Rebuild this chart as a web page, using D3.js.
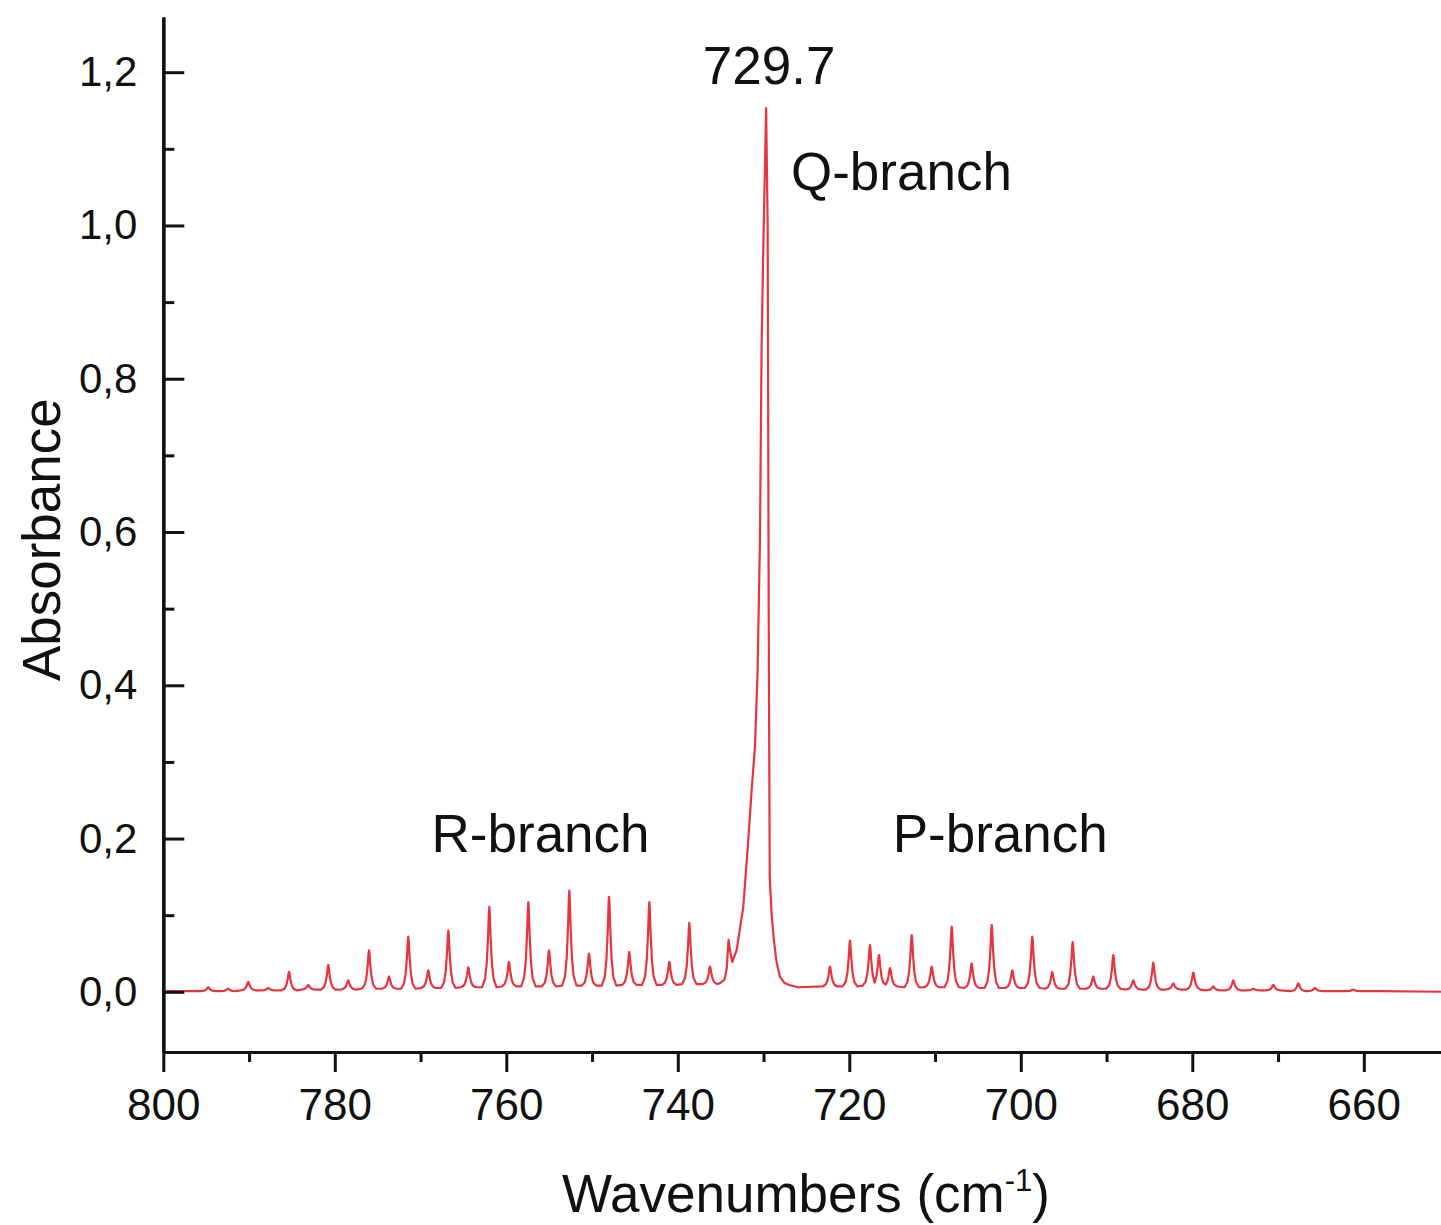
<!DOCTYPE html>
<html>
<head>
<meta charset="utf-8">
<script src="https://cdn.jsdelivr.net/npm/d3@7"></script>
<style>
  html, body { margin: 0; padding: 0; background: #ffffff; }
  svg { display: block; }
  text { font-family: "Liberation Sans", Arial, Helvetica, sans-serif; fill: #111; }
</style>
</head>
<body>
<svg id="chart" width="1441" height="1225"></svg>
<script>
// Rotational lines of the R- and P-branch: centre (cm-1), peak absorbance, local baseline
const lineWavenumber = [
  794.75, 792.45, 790.09, 787.76, 785.34, 783.09, 780.76, 778.43, 776.01, 773.68,
  771.43, 769.10, 766.76, 764.43, 761.98, 759.69, 757.43, 755.02, 752.65, 750.36,
  748.02, 745.66, 743.32, 740.99, 738.66, 736.24,
  722.25, 719.92, 717.59, 716.54, 715.25, 712.72, 710.39, 708.06, 705.73, 703.39,
  700.99, 698.66, 696.33, 693.95, 691.55, 689.21, 686.88, 684.55, 682.22, 679.88,
  677.55, 675.22, 672.89, 670.55, 667.64, 665.69, 661.22
];
const lineAbsorbance = [
  0.006, 0.004, 0.013, 0.005, 0.026, 0.009, 0.035, 0.015, 0.054, 0.020,
  0.072, 0.028, 0.080, 0.032, 0.111, 0.039, 0.117, 0.054, 0.132, 0.050,
  0.124, 0.052, 0.117, 0.039, 0.090, 0.033,
  0.033, 0.067, 0.061, 0.048, 0.031, 0.074, 0.033, 0.085, 0.037, 0.087,
  0.028, 0.072, 0.026, 0.065, 0.020, 0.048, 0.015, 0.038, 0.011, 0.025,
  0.007, 0.015, 0.004, 0.009, 0.011, 0.005, 0.003
];
const lineFloor = [
  0.001, 0.001, 0.002, 0.002, 0.002, 0.003, 0.003, 0.003, 0.004, 0.004,
  0.004, 0.005, 0.005, 0.006, 0.006, 0.007, 0.007, 0.007, 0.008, 0.008,
  0.008, 0.009, 0.009, 0.009, 0.010, 0.010,
  0.007, 0.007, 0.008, 0.008, 0.007, 0.006, 0.006, 0.006, 0.005, 0.005,
  0.005, 0.005, 0.004, 0.004, 0.004, 0.004, 0.003, 0.003, 0.003, 0.003,
  0.002, 0.002, 0.002, 0.002, 0.001, 0.001, 0.001
];

// Q-branch band contour and the flat ends of the spectrum, point by point
const contourWavenumber = [
  800.0, 797.0,
  735.0, 734.55, 734.3, 734.08, 733.85, 733.64, 733.14, 732.36, 731.78, 731.39,
  731.0, 730.70, 730.42, 730.23, 730.03, 729.7, 729.52, 729.40, 729.28, 729.05,
  728.80, 728.50, 728.10, 727.60, 727.0, 726.0,
  658.0, 650.0
];
const contourAbsorbance = [
  0.001, 0.001,
  0.012, 0.016, 0.030, 0.068, 0.050, 0.039, 0.054, 0.111, 0.198, 0.263,
  0.320, 0.416, 0.589, 0.841, 0.971, 1.153, 1.000, 0.500, 0.150, 0.100,
  0.068, 0.040, 0.020, 0.012, 0.009, 0.006,
  0.001, 0.000
];

// Shape of one absorption line: offset from centre (cm-1) and fraction of its height
const profileOffset   = [-0.85, -0.5, -0.3, -0.15, -0.05, 0, 0.05, 0.15, 0.3, 0.5, 0.85];
const profileFraction = [0, 0.1, 0.3, 0.62, 0.93, 1, 0.93, 0.62, 0.3, 0.1, 0];

const xMajorTicks = [800, 780, 760, 740, 720, 700, 680, 660];
const xMinorTicks = [790, 770, 750, 730, 710, 690, 670, 650];
const yMajorTicks = [0, 0.2, 0.4, 0.6, 0.8, 1.0, 1.2];
const yMinorTicks = [0.1, 0.3, 0.5, 0.7, 0.9, 1.1];

const annotations = [
  { text: "729.7",    wn: 729.7, a: 1.185, anchor: "middle", dx: 3 },
  { text: "Q-branch", wn: 726.8, a: 1.046, anchor: "start",  dx: 0 },
  { text: "R-branch", wn: 756.0, a: 0.182, anchor: "middle", dx: 0 },
  { text: "P-branch", wn: 702.4, a: 0.182, anchor: "middle", dx: 0 }
];

const svg = d3.select("#chart");

const x = d3.scaleLinear().domain([800, 650]).range([163.3, 1449.55]);
const y = d3.scaleLinear().domain([-0.0785, 1.272]).range([1052, 17]);

// Build the trace vertices: every rotational line contributes its profile,
// trimmed halfway to its neighbours so close lines do not cross over.
const vertices = [];
const order = d3.range(lineWavenumber.length).sort((i, j) => lineWavenumber[j] - lineWavenumber[i]);
order.forEach((i, k) => {
  const c = lineWavenumber[i], h = lineAbsorbance[i], f = lineFloor[i];
  const upper = k > 0 ? lineWavenumber[order[k - 1]] : Infinity;
  const lower = k < order.length - 1 ? lineWavenumber[order[k + 1]] : -Infinity;
  profileOffset.forEach((d, p) => {
    const wn = c + d;
    if (d > 0 && wn >= (c + upper) / 2) return;
    if (d < 0 && wn <= (c + lower) / 2) return;
    vertices.push([wn, f + (h - f) * profileFraction[p]]);
  });
});
contourWavenumber.forEach((wn, i) => vertices.push([wn, contourAbsorbance[i]]));
vertices.sort((a, b) => b[0] - a[0]);

svg.append("defs").append("clipPath").attr("id", "plot-clip")
  .append("rect").attr("x", 163).attr("y", 0).attr("width", 1300).attr("height", 1052);

svg.append("path")
  .datum(vertices)
  .attr("clip-path", "url(#plot-clip)")
  .attr("fill", "none")
  .attr("stroke", "#e6353f")
  .attr("stroke-width", 2.2)
  .attr("stroke-linejoin", "round")
  .attr("d", d3.line().x(d => x(d[0])).y(d => y(d[1])));

// X axis: ticks point outward
const xAxisG = svg.append("g").attr("transform", `translate(0,${y(-0.0785)})`);
xAxisG.append("g")
  .call(d3.axisBottom(x).tickValues(xMinorTicks).tickSize(10).tickSizeOuter(0).tickFormat(""));
xAxisG.append("g").attr("class", "x-major")
  .call(d3.axisBottom(x).tickValues(xMajorTicks).tickSize(20).tickSizeOuter(0).tickPadding(17)
    .tickFormat(d3.format("d")));

// Y axis: ticks point inward
const yAxisG = svg.append("g").attr("transform", `translate(${x(800)},0)`);
yAxisG.append("g")
  .call(d3.axisLeft(y).tickValues(yMinorTicks).tickSize(-11).tickSizeOuter(0).tickFormat(""));
yAxisG.append("g").attr("class", "y-major")
  .call(d3.axisLeft(y).tickValues(yMajorTicks).tickSize(-21).tickSizeOuter(0).tickPadding(26)
    .tickFormat(d => d.toFixed(1).replace(".", ",")));

svg.selectAll(".domain").attr("stroke", "#111").attr("stroke-width", 3.2);
svg.selectAll(".tick line").attr("stroke", "#111").attr("stroke-width", 3);
svg.selectAll(".tick text").attr("fill", "#111")
  .attr("font-family", "\"Liberation Sans\", Arial, sans-serif");
svg.selectAll(".x-major .tick text").attr("font-size", 44);
svg.selectAll(".y-major .tick text").attr("font-size", 42);

// Axis titles
svg.append("text")
  .attr("transform", `translate(60,${y(0.59)}) rotate(-90)`)
  .attr("text-anchor", "middle")
  .attr("font-size", 53)
  .text("Absorbance");

const xTitle = svg.append("text")
  .attr("x", x(725.05)).attr("y", 1212)
  .attr("text-anchor", "middle")
  .attr("font-size", 53);
xTitle.append("tspan").text("Wavenumbers (cm");
xTitle.append("tspan").attr("font-size", 31).attr("dy", -21).text("-1");
xTitle.append("tspan").attr("dy", 21).text(")");

// Band annotations
svg.selectAll(".annotation")
  .data(annotations)
  .join("text")
  .attr("class", "annotation")
  .attr("x", d => x(d.wn) + d.dx)
  .attr("y", d => y(d.a))
  .attr("text-anchor", d => d.anchor)
  .attr("font-size", 53)
  .text(d => d.text);
</script>
</body>
</html>
